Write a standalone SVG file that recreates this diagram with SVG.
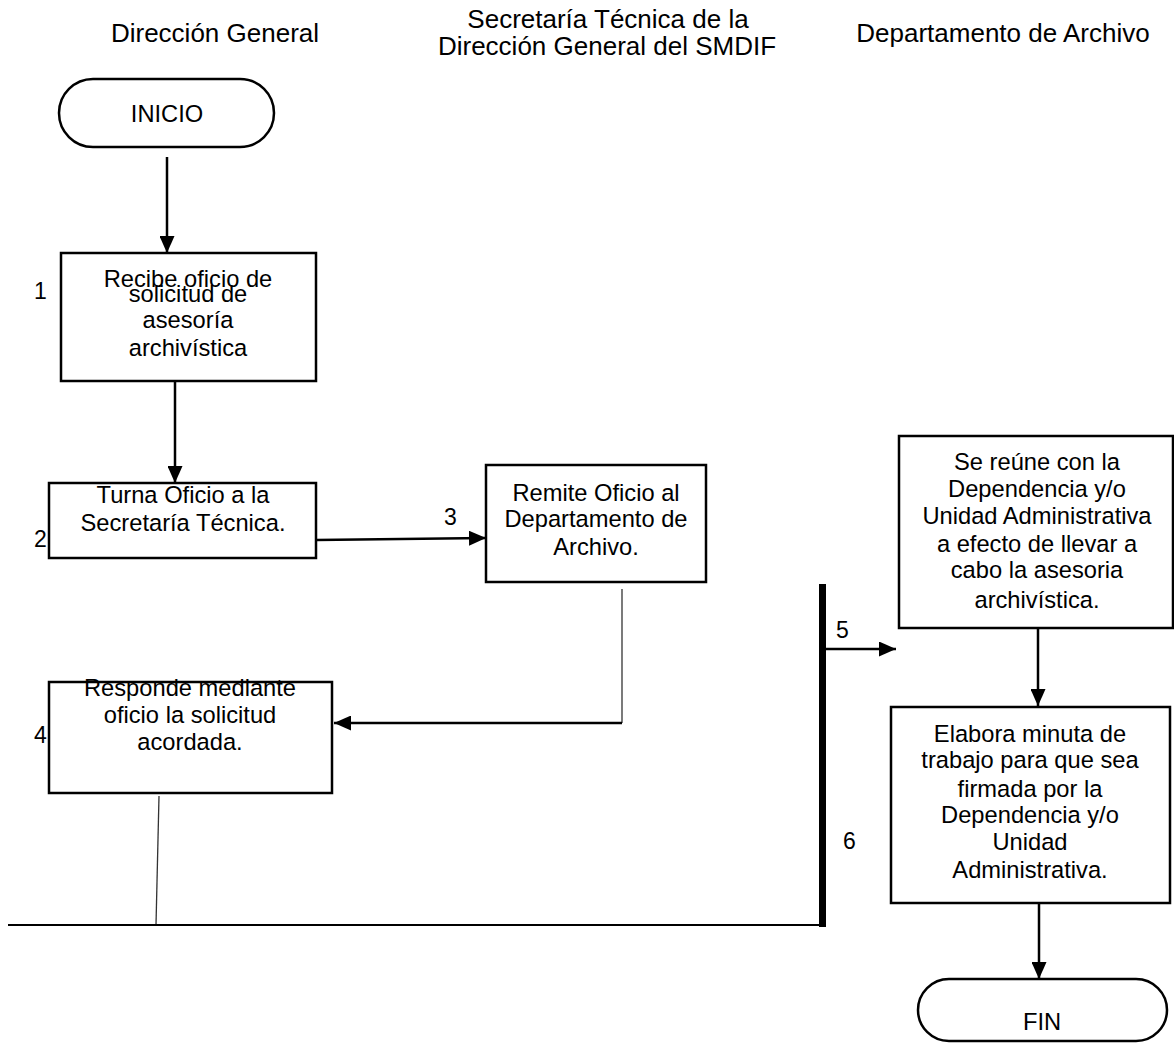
<svg xmlns="http://www.w3.org/2000/svg" width="1174" height="1045" viewBox="0 0 1174 1045">
<defs>
<marker id="ah" markerWidth="17" markerHeight="15" refX="17" refY="7.5" orient="auto" markerUnits="userSpaceOnUse" viewBox="0 0 17 15">
<path d="M0,0 L17,7.5 L0,15 z" fill="#000"/>
</marker>
<style>
text{font-family:"Liberation Sans",Arial,sans-serif;fill:#000}
.hd{font-size:26px;text-anchor:middle}
.t{font-size:23.7px;text-anchor:middle}
.n{font-size:23px}
.box{fill:#fff;stroke:#000;stroke-width:2.5}
.c{fill:none;stroke:#000;stroke-width:2.5}
.thin{fill:none;stroke:#333;stroke-width:1.3}
</style>
</defs>
<rect width="1174" height="1045" fill="#fff"/>
<g id="headers">
<text class="hd" x="215" y="42">Dirección General</text>
<text class="hd" x="608" y="28">Secretaría Técnica de la</text>
<text class="hd" x="607" y="55">Dirección General del SMDIF</text>
<text class="hd" x="1003" y="42">Departamento de Archivo</text>
</g>
<g id="connectors">
<line class="c" x1="167" y1="157" x2="167" y2="253" marker-end="url(#ah)"/>
<line class="c" x1="175" y1="381" x2="175" y2="483" marker-end="url(#ah)"/>
<line class="c" x1="316" y1="540" x2="486" y2="538" marker-end="url(#ah)"/>
<polyline class="thin" points="622,589 622,723"/>
<line class="c" x1="622" y1="723" x2="334" y2="723" marker-end="url(#ah)"/>
<line class="thin" x1="159" y1="796" x2="156" y2="925"/>
<line x1="8" y1="925" x2="820" y2="925" stroke="#000" stroke-width="2"/>
<rect x="819" y="584" width="7" height="343" fill="#000"/>
<line class="c" x1="826" y1="649" x2="896" y2="649" marker-end="url(#ah)"/>
<line class="c" x1="1038" y1="628" x2="1038" y2="706" marker-end="url(#ah)"/>
<line class="c" x1="1039" y1="903" x2="1039" y2="979" marker-end="url(#ah)"/>
<text class="n" x="444" y="525">3</text>
<text class="n" x="836" y="638">5</text>
<text class="n" x="843" y="849">6</text>
</g>
<g id="inicio">
<rect class="box" x="59" y="79" width="215" height="68" rx="34" ry="34"/>
<text class="t" x="167" y="122">INICIO</text>
</g>
<g id="paso1">
<rect class="box" x="61" y="253" width="255" height="128"/>
<text class="n" x="34" y="299">1</text>
<text class="t" x="188" y="287">Recibe oficio de</text>
<text class="t" x="188" y="302">solicitud de</text>
<text class="t" x="188" y="328">asesoría</text>
<text class="t" x="188" y="356">archivística</text>
</g>
<g id="paso2">
<rect class="box" x="49" y="483" width="267" height="75"/>
<text class="n" x="34" y="547">2</text>
<text class="t" x="183" y="503">Turna Oficio a la</text>
<text class="t" x="183" y="531">Secretaría Técnica.</text>
</g>
<g id="paso3">
<rect class="box" x="486" y="465" width="220" height="117"/>
<text class="t" x="596" y="501">Remite Oficio al</text>
<text class="t" x="596" y="527">Departamento de</text>
<text class="t" x="596" y="555">Archivo.</text>
</g>
<g id="paso4">
<rect class="box" x="49" y="682" width="283" height="111"/>
<text class="n" x="34" y="743">4</text>
<text class="t" x="190" y="696">Responde mediante</text>
<text class="t" x="190" y="723">oficio la solicitud</text>
<text class="t" x="190" y="750">acordada.</text>
</g>
<g id="paso5">
<rect class="box" x="899" y="436" width="274" height="192"/>
<text class="t" x="1037" y="470">Se reúne con la</text>
<text class="t" x="1037" y="497">Dependencia y/o</text>
<text class="t" x="1037" y="524">Unidad Administrativa</text>
<text class="t" x="1037" y="552">a efecto de llevar a</text>
<text class="t" x="1037" y="578">cabo la asesoria</text>
<text class="t" x="1037" y="608">archivística.</text>
</g>
<g id="paso6">
<rect class="box" x="891" y="707" width="279" height="196"/>
<text class="t" x="1030" y="742">Elabora minuta de</text>
<text class="t" x="1030" y="768">trabajo para que sea</text>
<text class="t" x="1030" y="797">firmada por la</text>
<text class="t" x="1030" y="823">Dependencia y/o</text>
<text class="t" x="1030" y="850">Unidad</text>
<text class="t" x="1030" y="878">Administrativa.</text>
</g>
<g id="fin">
<rect class="box" x="918" y="979" width="249" height="62" rx="31" ry="31"/>
<text class="t" x="1042" y="1030">FIN</text>
</g>
</svg>
